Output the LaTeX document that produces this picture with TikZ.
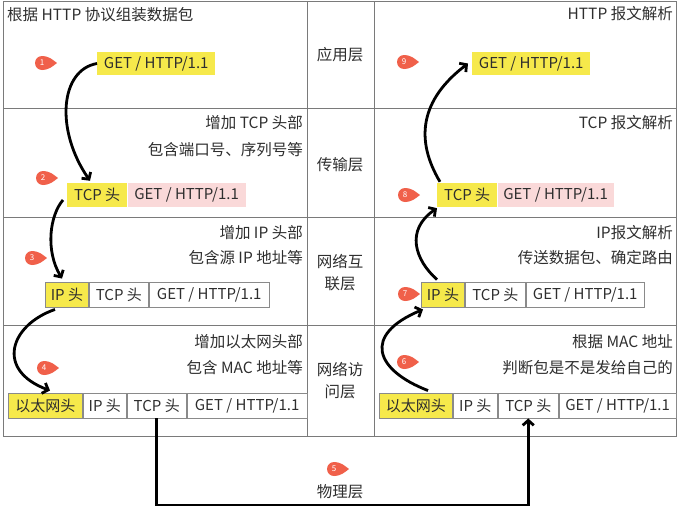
\documentclass[tikz,border=0pt]{standalone}
\usepackage{fontspec}
\setmainfont{Noto Sans CJK SC}
\usetikzlibrary{arrows.meta,calc}
\definecolor{txt}{HTML}{2E2E2E}
\definecolor{grid}{HTML}{7A7A7A}
\definecolor{boxline}{HTML}{8A8A8A}
\definecolor{hy}{HTML}{F6E94B}
\definecolor{pk}{HTML}{FAD9D9}
\definecolor{badgec}{HTML}{F0604A}
\newcommand\badgeat[3]{%
  \coordinate (#2c) at (#1);
  \fill[badgec] ($(#2c)+(0,7)$) .. controls ($(#2c)+(7,7)$) and ($(#2c)+(11,3)$) .. ($(#2c)+(15,0)$) .. controls ($(#2c)+(11,-3)$) and ($(#2c)+(7,-7)$) .. ($(#2c)+(0,-7)$) -- cycle;
  \node[badge] (#2) at (#2c) {#3};}
\begin{document}
\begin{tikzpicture}[x=1pt,y=-1pt,
  lbl/.style={font=\fontsize{15.5}{18}\selectfont, text=txt, inner sep=0},
  mid/.style={font=\fontsize{15.5}{22}\selectfont, text=txt, inner sep=0, align=center},
  cell/.style={font=\fontsize{15}{18}\selectfont, text=txt, inner sep=0, minimum height=24, anchor=west},
  bcell/.style={cell, draw=boxline, line width=0.9pt, minimum height=25},
  badge/.style={circle, fill=badgec, text=white, inner sep=0, minimum size=14, font=\fontsize{8}{9}\selectfont},
  arr/.style={line width=2.8pt, -{Straight Barb[length=5pt,width=11pt]}, black},
  tbl/.style={draw=grid, line width=1pt}
]
\useasboundingbox (0,0) rectangle (678,509);
% table
\draw[tbl] (3,1) rectangle (676,436);
\foreach \yy in {108,217,325} \draw[tbl] (3,\yy) -- (676,\yy);
\foreach \xx in {307,374} \draw[tbl] (\xx,1) -- (\xx,436);
% middle labels
\node[mid] (m1) at (340,55) {应用层};
\node[mid] (m2) at (340,165) {传输层};
\node[mid] (m3) at (340,273) {网络互\\联层};
\node[mid] (m4) at (340,381) {网络访\\问层};
\node[mid] (m5) at (340,492) {物理层};
% texts left
\node[lbl, anchor=west] (t1l) at (7,15) {根据 HTTP 协议组装数据包};
\node[lbl, anchor=east] (t2l) at (303,123) {增加 TCP 头部};
\node[lbl, anchor=east] (t2l2) at (303,150) {包含端口号、序列号等};
\node[lbl, anchor=east] (t3l) at (303,233) {增加 IP 头部};
\node[lbl, anchor=east] (t3l2) at (303,258) {包含源 IP 地址等};
\node[lbl, anchor=east] (t4l) at (303,342) {增加以太网头部};
\node[lbl, anchor=east] (t4l2) at (303,368) {包含 MAC 地址等};
% texts right
\node[lbl, anchor=east] (t1r) at (673,14) {HTTP 报文解析};
\node[lbl, anchor=east] (t2r) at (673,123) {TCP 报文解析};
\node[lbl, anchor=east] (t3r) at (673,233) {IP报文解析};
\node[lbl, anchor=east] (t3r2) at (673,258) {传送数据包、确定路由};
\node[lbl, anchor=east] (t4r) at (673,342) {根据 MAC 地址};
\node[lbl, anchor=east] (t4r2) at (673,368) {判断包是不是发给自己的};
% left packets
\node[cell, fill=hy, minimum width=118, minimum height=23] (l1) at (97,63.5) {GET / HTTP/1.1};
\node[cell, fill=hy, minimum width=60] (l2a) at (67,195) {TCP 头};
\node[cell, fill=pk, minimum width=118] (l2b) at (l2a.east) {GET / HTTP/1.1};
\node[bcell, fill=hy, minimum width=43] (l3a) at (45,294.5) {IP 头};
\node[bcell, minimum width=59] (l3b) at (l3a.east) {TCP 头};
\node[bcell, minimum width=120] (l3c) at (l3b.east) {GET / HTTP/1.1};
\node[bcell, fill=hy, minimum width=74] (l4a) at (8,405.5) {以太网头};
\node[bcell, minimum width=43] (l4b) at (l4a.east) {IP 头};
\node[bcell, minimum width=59] (l4c) at (l4b.east) {TCP 头};
\node[bcell, minimum width=120] (l4d) at (l4c.east) {GET / HTTP/1.1};
% right packets
\node[cell, fill=hy, minimum width=118, minimum height=23] (r1) at (472,63.5) {GET / HTTP/1.1};
\node[cell, fill=hy, minimum width=60] (r2a) at (437,195) {TCP 头};
\node[cell, fill=pk, minimum width=116] (r2b) at (r2a.east) {GET / HTTP/1.1};
\node[bcell, fill=hy, minimum width=43] (r3a) at (421,294.5) {IP 头};
\node[bcell, minimum width=60] (r3b) at (r3a.east) {TCP 头};
\node[bcell, minimum width=118] (r3c) at (r3b.east) {GET / HTTP/1.1};
\node[bcell, fill=hy, minimum width=73] (r4a) at (379,405.5) {以太网头};
\node[bcell, minimum width=44] (r4b) at (r4a.east) {IP 头};
\node[bcell, minimum width=60] (r4c) at (r4b.east) {TCP 头};
\node[bcell, minimum width=117] (r4d) at (r4c.east) {GET / HTTP/1.1};
% badges
\badgeat{42,63}{b1}{1}
\badgeat{43,178}{b2}{2}
\badgeat{32,258}{b3}{3}
\badgeat{44,368}{b4}{4}
\badgeat{334,469}{b5}{5}
\badgeat{404,362}{b6}{6}
\badgeat{405,294}{b7}{7}
\badgeat{405,195}{b8}{8}
\badgeat{404,62}{b9}{9}
% arrows
\coordinate (bot) at (0,505);
\draw[arr] (l1.west) .. controls (60,70) and (55,130) .. ([shift={(23,-2)}]l2a.north west);
\draw[arr] ([shift={(-4,5)}]l2a.west) .. controls (50,215) and (45,250) .. ([shift={(17,-3)}]l3a.north west);
\draw[arr] ([shift={(10,2)}]l3a.south west) .. controls (10,325) and (-5,370) .. ([shift={(42,-2)}]l4a.north west);
\draw[arr] (l4c.south) -- (l4c.south |- bot) -| (r4c.south);
\draw[arr] ([shift={(49,-2)}]r4a.north west) .. controls (375,370) and (362,335) .. ([shift={(2,2)}]r3a.south west);
\draw[arr] ([shift={(16,-2)}]r3a.north west) .. controls (415,260) and (405,230) .. ([shift={(0,1)}]r2a.south west);
\draw[arr] ([shift={(3,-1)}]r2a.north west) .. controls (415,140) and (420,100) .. ([shift={(-4,0)}]r1.west);
\end{tikzpicture}
\end{document}
